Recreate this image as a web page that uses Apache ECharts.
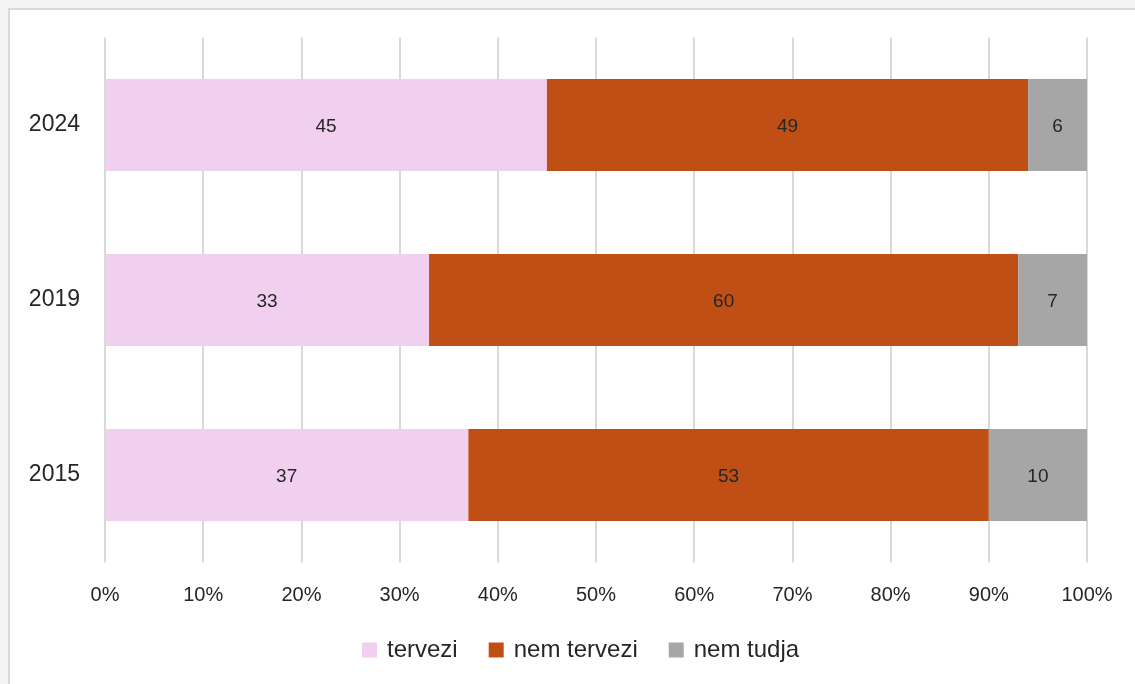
<!DOCTYPE html>
<html><head><meta charset="utf-8">
<script src="https://cdn.jsdelivr.net/npm/echarts@6/dist/echarts.min.js"></script>
<style>
html,body{margin:0;padding:0;background:#f3f3f3;width:1135px;height:684px;overflow:hidden;}
#box{position:absolute;left:8px;top:8px;width:1140px;height:700px;background:#fff;border:2px solid #d9d9d9;box-sizing:border-box;}
#c{position:absolute;left:0;top:0;width:1135px;height:684px;}
</style></head>
<body><div id="box"></div><div id="c"></div>
<script>
const categories = ['2015', '2019', '2024'];
const tervezi = [37, 33, 45];
const nemTervezi = [53, 60, 49];
const nemTudja = [10, 7, 6];
const seriesNames = ['tervezi', 'nem tervezi', 'nem tudja'];
const colors = ['#f1cfee', '#c04f15', '#a6a6a6'];

const FONT = 'Arial';
const chart = echarts.init(document.getElementById('c'));
const lbl = {show: true, position: 'inside', color: '#262626', fontSize: 19, fontFamily: FONT, offset: [0, 2]};
chart.setOption({
  backgroundColor: 'transparent',
  animation: false,
  color: colors,
  grid: {left: 105, top: 37.5, width: 982, height: 525},
  legend: {
    top: 633, left: 357, itemWidth: 15, itemHeight: 15, itemGap: 31,
    icon: 'rect',
    textStyle: {fontSize: 24, color: '#262626', fontFamily: FONT, padding: [0, 0, 0, 5]},
    data: seriesNames
  },
  xAxis: {
    type: 'value', min: 0, max: 100, interval: 10,
    axisLabel: {formatter: '{value}%', fontSize: 20, color: '#262626', margin: 23, fontFamily: FONT},
    splitLine: {lineStyle: {color: '#d9d9d9', width: 2}},
    axisLine: {show: false}, axisTick: {show: false}
  },
  yAxis: {
    type: 'category', data: categories,
    axisLabel: {fontSize: 23, color: '#262626', margin: 25, fontFamily: FONT},
    axisLine: {show: false}, axisTick: {show: false}
  },
  series: [
    {name: seriesNames[0], type: 'bar', stack: 's', data: tervezi, barWidth: 92, label: lbl},
    {name: seriesNames[1], type: 'bar', stack: 's', data: nemTervezi, barWidth: 92, label: lbl},
    {name: seriesNames[2], type: 'bar', stack: 's', data: nemTudja, barWidth: 92, label: lbl}
  ]
});
</script></body></html>
